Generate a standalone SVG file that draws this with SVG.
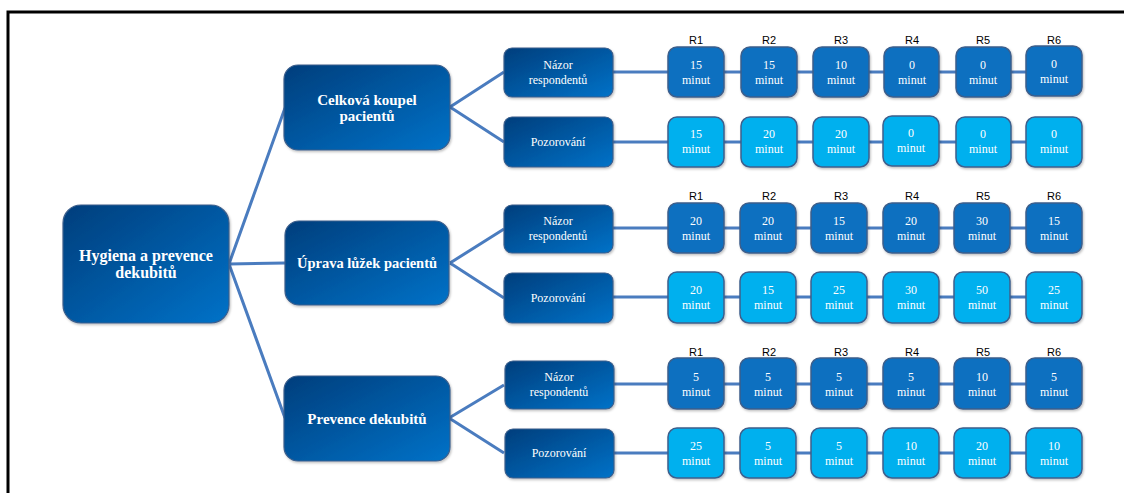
<svg xmlns="http://www.w3.org/2000/svg" width="1124" height="493" viewBox="0 0 1124 493">
<defs>
<linearGradient id="gNode" x1="0" y1="0" x2="1" y2="1">
<stop offset="0" stop-color="#003e7c"/>
<stop offset="1" stop-color="#0072c8"/>
</linearGradient>
<filter id="sh" x="-5%" y="-5%" width="115%" height="120%">
<feDropShadow dx="1" dy="1.5" stdDeviation="1" flood-color="#000" flood-opacity="0.25"/>
</filter>
</defs>
<style>
.node{fill:url(#gNode);stroke:#3d5f8c;stroke-width:1.2;filter:url(#sh)}
.r1{fill:#0a6fc0;stroke:#3d5f8c;stroke-width:1.5;filter:url(#sh)}
.r2{fill:#03b0ee;stroke:#3d5f8c;stroke-width:1.5;filter:url(#sh)}
.t{font-family:"Liberation Serif","Times New Roman",serif;fill:#ffffff;text-anchor:middle}
.tb{font-weight:bold}
.lab{font-family:"Liberation Sans",Arial,sans-serif;font-size:11px;fill:#000;text-anchor:middle}
.c{stroke:#4a7cbf;stroke-width:3;fill:none}
</style>
<rect width="1124" height="493" fill="#ffffff"/>
<path d="M8,493 V12 H1124" fill="none" stroke="#000" stroke-width="3"/>

<g id="connectors">
<path class="c" d="M229,264 L285,108 M229,264 L285,263 M229,264 L285,418"/>
<path class="c" d="M450,107 L504,72 M450,107 L504,142 M450,263 L504,229 M450,263 L504,298 M449,418 L504,385 M449,418 L504,453"/>
<path class="c" d="M613,72 H1026 M613,142 H1026 M613,228 H1026 M613,297 H1026 M613,384 H1026 M613,453 H1026"/>
</g>

<g id="root">
<rect class="node" x="63" y="205" width="166" height="118" rx="18"/>
<text class="t tb" x="146" y="261" font-size="16">Hygiena a prevence</text>
<text class="t tb" x="146" y="278" font-size="16">dekubitů</text>
</g>

<g id="celkova">
<rect class="node" x="284" y="65" width="166" height="85" rx="14"/>
<text class="t tb" x="367" y="105" font-size="15">Celková koupel</text>
<text class="t tb" x="367" y="121" font-size="15">pacientů</text>
</g>
<g id="uprava">
<rect class="node" x="285" y="221" width="164" height="84" rx="14"/>
<text class="t tb" x="367" y="268" font-size="14.5">Úprava lůžek pacientů</text>
</g>
<g id="prevence">
<rect class="node" x="284" y="376" width="166" height="85" rx="14"/>
<text class="t tb" x="367" y="424" font-size="15">Prevence dekubitů</text>
</g>

<g id="nazor1">
<rect class="node" x="504" y="48" width="109" height="49" rx="8"/>
<text class="t" x="558" y="69" font-size="12">Názor</text>
<text class="t" x="558" y="84" font-size="12">respondentů</text>
</g>
<g id="pozor1">
<rect class="node" x="504" y="117" width="109" height="50" rx="8"/>
<text class="t" x="558" y="146" font-size="12">Pozorování</text>
</g>
<g id="nazor2">
<rect class="node" x="504" y="205" width="109" height="48" rx="8"/>
<text class="t" x="558" y="225" font-size="12">Názor</text>
<text class="t" x="558" y="240" font-size="12">respondentů</text>
</g>
<g id="pozor2">
<rect class="node" x="504" y="273" width="109" height="50" rx="8"/>
<text class="t" x="558" y="302" font-size="12">Pozorování</text>
</g>
<g id="nazor3">
<rect class="node" x="505" y="361" width="109" height="48" rx="8"/>
<text class="t" x="559" y="381" font-size="12">Názor</text>
<text class="t" x="559" y="396" font-size="12">respondentů</text>
</g>
<g id="pozor3">
<rect class="node" x="505" y="429" width="109" height="49" rx="8"/>
<text class="t" x="559" y="457" font-size="12">Pozorování</text>
</g>

<g id="labels">
<text class="lab" x="696" y="44">R1</text><text class="lab" x="769" y="44">R2</text><text class="lab" x="841" y="44">R3</text><text class="lab" x="912" y="44">R4</text><text class="lab" x="983" y="44">R5</text><text class="lab" x="1054" y="44">R6</text>
<text class="lab" x="696" y="200">R1</text><text class="lab" x="769" y="200">R2</text><text class="lab" x="841" y="200">R3</text><text class="lab" x="912" y="200">R4</text><text class="lab" x="983" y="200">R5</text><text class="lab" x="1054" y="200">R6</text>
<text class="lab" x="696" y="356">R1</text><text class="lab" x="769" y="356">R2</text><text class="lab" x="841" y="356">R3</text><text class="lab" x="912" y="356">R4</text><text class="lab" x="983" y="356">R5</text><text class="lab" x="1054" y="356">R6</text>
</g>

<g id="g1r1">
<g id="a1"><rect class="r1" x="668" y="47" width="56" height="50" rx="9"/><text class="t" x="696" y="69" font-size="12">15</text><text class="t" x="696" y="84" font-size="12">minut</text></g>
<g id="a2"><rect class="r1" x="741" y="47" width="56" height="50" rx="9"/><text class="t" x="769" y="69" font-size="12">15</text><text class="t" x="769" y="84" font-size="12">minut</text></g>
<g id="a3"><rect class="r1" x="813" y="47" width="56" height="50" rx="9"/><text class="t" x="841" y="69" font-size="12">10</text><text class="t" x="841" y="84" font-size="12">minut</text></g>
<g id="a4"><rect class="r1" x="884" y="47" width="55" height="50" rx="9"/><text class="t" x="912" y="69" font-size="12">0</text><text class="t" x="912" y="84" font-size="12">minut</text></g>
<g id="a5"><rect class="r1" x="956" y="47" width="55" height="50" rx="9"/><text class="t" x="983" y="69" font-size="12">0</text><text class="t" x="983" y="84" font-size="12">minut</text></g>
<g id="a6"><rect class="r1" x="1026" y="46" width="56" height="50" rx="9"/><text class="t" x="1054" y="68" font-size="12">0</text><text class="t" x="1054" y="83" font-size="12">minut</text></g>
</g>
<g id="g1r2">
<g id="b1"><rect class="r2" x="668" y="117" width="56" height="50" rx="9"/><text class="t" x="696" y="138" font-size="12">15</text><text class="t" x="696" y="153" font-size="12">minut</text></g>
<g id="b2"><rect class="r2" x="741" y="117" width="56" height="50" rx="9"/><text class="t" x="769" y="138" font-size="12">20</text><text class="t" x="769" y="153" font-size="12">minut</text></g>
<g id="b3"><rect class="r2" x="813" y="117" width="56" height="50" rx="9"/><text class="t" x="841" y="138" font-size="12">20</text><text class="t" x="841" y="153" font-size="12">minut</text></g>
<g id="b4"><rect class="r2" x="883" y="116" width="56" height="50" rx="9"/><text class="t" x="911" y="137" font-size="12">0</text><text class="t" x="911" y="152" font-size="12">minut</text></g>
<g id="b5"><rect class="r2" x="956" y="117" width="55" height="50" rx="9"/><text class="t" x="983" y="138" font-size="12">0</text><text class="t" x="983" y="153" font-size="12">minut</text></g>
<g id="b6"><rect class="r2" x="1026" y="117" width="56" height="50" rx="9"/><text class="t" x="1054" y="138" font-size="12">0</text><text class="t" x="1054" y="153" font-size="12">minut</text></g>
</g>

<g id="g2r1">
<g id="c1"><rect class="r1" x="668" y="203" width="56" height="50" rx="9"/><text class="t" x="696" y="225" font-size="12">20</text><text class="t" x="696" y="240" font-size="12">minut</text></g>
<g id="c2"><rect class="r1" x="740" y="203" width="56" height="50" rx="9"/><text class="t" x="768" y="225" font-size="12">20</text><text class="t" x="768" y="240" font-size="12">minut</text></g>
<g id="c3"><rect class="r1" x="811" y="203" width="56" height="50" rx="9"/><text class="t" x="839" y="225" font-size="12">15</text><text class="t" x="839" y="240" font-size="12">minut</text></g>
<g id="c4"><rect class="r1" x="883" y="203" width="56" height="50" rx="9"/><text class="t" x="911" y="225" font-size="12">20</text><text class="t" x="911" y="240" font-size="12">minut</text></g>
<g id="c5"><rect class="r1" x="954" y="203" width="56" height="50" rx="9"/><text class="t" x="982" y="225" font-size="12">30</text><text class="t" x="982" y="240" font-size="12">minut</text></g>
<g id="c6"><rect class="r1" x="1026" y="203" width="56" height="50" rx="9"/><text class="t" x="1054" y="225" font-size="12">15</text><text class="t" x="1054" y="240" font-size="12">minut</text></g>
</g>
<g id="g2r2">
<g id="d1"><rect class="r2" x="668" y="272" width="56" height="51" rx="9"/><text class="t" x="696" y="294" font-size="12">20</text><text class="t" x="696" y="309" font-size="12">minut</text></g>
<g id="d2"><rect class="r2" x="740" y="272" width="56" height="51" rx="9"/><text class="t" x="768" y="294" font-size="12">15</text><text class="t" x="768" y="309" font-size="12">minut</text></g>
<g id="d3"><rect class="r2" x="811" y="272" width="56" height="51" rx="9"/><text class="t" x="839" y="294" font-size="12">25</text><text class="t" x="839" y="309" font-size="12">minut</text></g>
<g id="d4"><rect class="r2" x="883" y="272" width="56" height="51" rx="9"/><text class="t" x="911" y="294" font-size="12">30</text><text class="t" x="911" y="309" font-size="12">minut</text></g>
<g id="d5"><rect class="r2" x="954" y="272" width="56" height="51" rx="9"/><text class="t" x="982" y="294" font-size="12">50</text><text class="t" x="982" y="309" font-size="12">minut</text></g>
<g id="d6"><rect class="r2" x="1026" y="272" width="56" height="51" rx="9"/><text class="t" x="1054" y="294" font-size="12">25</text><text class="t" x="1054" y="309" font-size="12">minut</text></g>
</g>

<g id="g3r1">
<g id="e1"><rect class="r1" x="668" y="358" width="56" height="51" rx="9"/><text class="t" x="696" y="381" font-size="12">5</text><text class="t" x="696" y="396" font-size="12">minut</text></g>
<g id="e2"><rect class="r1" x="740" y="358" width="56" height="51" rx="9"/><text class="t" x="768" y="381" font-size="12">5</text><text class="t" x="768" y="396" font-size="12">minut</text></g>
<g id="e3"><rect class="r1" x="811" y="358" width="56" height="51" rx="9"/><text class="t" x="839" y="381" font-size="12">5</text><text class="t" x="839" y="396" font-size="12">minut</text></g>
<g id="e4"><rect class="r1" x="883" y="358" width="56" height="51" rx="9"/><text class="t" x="911" y="381" font-size="12">5</text><text class="t" x="911" y="396" font-size="12">minut</text></g>
<g id="e5"><rect class="r1" x="954" y="358" width="56" height="51" rx="9"/><text class="t" x="982" y="381" font-size="12">10</text><text class="t" x="982" y="396" font-size="12">minut</text></g>
<g id="e6"><rect class="r1" x="1026" y="358" width="56" height="51" rx="9"/><text class="t" x="1054" y="381" font-size="12">5</text><text class="t" x="1054" y="396" font-size="12">minut</text></g>
</g>
<g id="g3r2">
<g id="f1"><rect class="r2" x="668" y="428" width="56" height="50" rx="9"/><text class="t" x="696" y="450" font-size="12">25</text><text class="t" x="696" y="465" font-size="12">minut</text></g>
<g id="f2"><rect class="r2" x="740" y="428" width="56" height="50" rx="9"/><text class="t" x="768" y="450" font-size="12">5</text><text class="t" x="768" y="465" font-size="12">minut</text></g>
<g id="f3"><rect class="r2" x="811" y="428" width="56" height="50" rx="9"/><text class="t" x="839" y="450" font-size="12">5</text><text class="t" x="839" y="465" font-size="12">minut</text></g>
<g id="f4"><rect class="r2" x="883" y="428" width="56" height="50" rx="9"/><text class="t" x="911" y="450" font-size="12">10</text><text class="t" x="911" y="465" font-size="12">minut</text></g>
<g id="f5"><rect class="r2" x="954" y="428" width="56" height="50" rx="9"/><text class="t" x="982" y="450" font-size="12">20</text><text class="t" x="982" y="465" font-size="12">minut</text></g>
<g id="f6"><rect class="r2" x="1026" y="428" width="56" height="50" rx="9"/><text class="t" x="1054" y="450" font-size="12">10</text><text class="t" x="1054" y="465" font-size="12">minut</text></g>
</g>
</svg>
